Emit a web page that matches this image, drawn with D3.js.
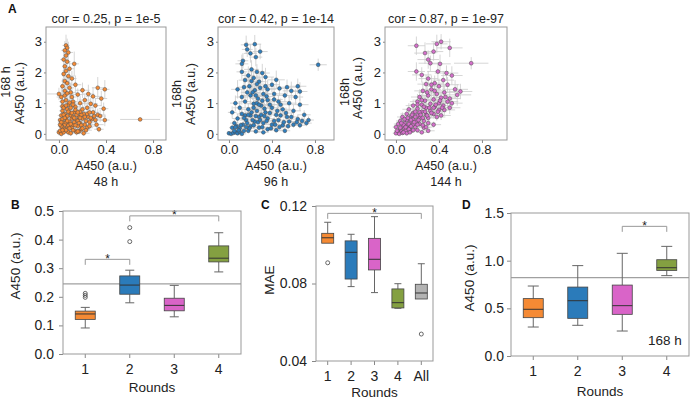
<!DOCTYPE html>
<html>
<head>
<meta charset="utf-8">
<script src="https://cdn.jsdelivr.net/npm/d3@7"></script>
<style>
body { margin: 0; background: #fff; }
svg { font-family: "Liberation Sans", Arial, sans-serif; }
.axis .domain { display: none; }
.axis line { stroke: #888; }
.axis text { fill: #222; }
</style>
</head>
<body>
<script>
// ---- panel A: scatter data, [x, y, xerr, yerr] ----
var pts48 = [
 [0.06,2.88,0.03,0.35],[0.07,2.80,0.02,0.3],[0.05,2.72,0.03,0.3],[0.08,2.65,0.04,0.35],[0.06,2.55,0.02,0.25],
 [0.04,2.42,0.03,0.3],[0.07,2.35,0.03,0.3],[0.13,2.28,0.04,0.4],[0.05,2.20,0.02,0.3],[0.09,2.12,0.04,0.25],
 [0.06,2.05,0.03,0.3],[0.04,1.95,0.02,0.3],[0.08,1.88,0.05,0.3],[0.11,1.80,0.04,0.25],[0.05,1.72,0.03,0.3],
 [0.07,1.65,0.04,0.2],[0.14,1.60,0.05,0.3],[0.03,1.55,0.02,0.25],[0.09,1.50,0.04,0.3],
 [0.00,1.30,0.10,0.2],[0.02,1.20,0.04,0.3],[0.05,1.40,0.03,0.25],[0.10,1.35,0.05,0.3],[0.16,1.28,0.05,0.2],
 [0.20,1.42,0.06,0.25],[0.25,1.30,0.05,0.3],[0.29,1.22,0.06,0.3],[0.33,1.50,0.05,0.35],[0.39,1.45,0.04,0.3],
 [0.36,1.15,0.05,0.25],[0.22,1.10,0.05,0.2],[0.18,1.00,0.04,0.25],[0.12,1.05,0.04,0.3],[0.08,0.95,0.03,0.2],
 [0.03,0.90,0.03,0.25],[0.27,0.98,0.06,0.2],[0.31,0.92,0.05,0.25],[0.38,0.82,0.04,0.2],[0.14,0.88,0.05,0.2],
 [0.24,0.85,0.05,0.2],[0.06,1.10,0.03,0.25],[0.11,1.20,0.04,0.3],
 [0.00,0.05,0.02,0.1],[0.01,0.10,0.03,0.12],[0.02,0.00,0.02,0.08],[0.03,0.20,0.03,0.15],[0.04,0.35,0.02,0.2],
 [0.05,0.15,0.03,0.12],[0.06,0.50,0.03,0.2],[0.07,0.25,0.04,0.15],[0.08,0.05,0.03,0.1],[0.09,0.40,0.04,0.2],
 [0.10,0.60,0.05,0.25],[0.11,0.20,0.04,0.12],[0.12,0.30,0.05,0.15],[0.13,0.70,0.05,0.2],[0.14,0.10,0.04,0.1],
 [0.15,0.45,0.05,0.2],[0.16,0.25,0.04,0.15],[0.17,0.55,0.06,0.2],[0.18,0.35,0.05,0.15],[0.19,0.15,0.04,0.1],
 [0.20,0.50,0.06,0.2],[0.21,0.65,0.05,0.25],[0.22,0.30,0.05,0.15],[0.23,0.42,0.06,0.2],[0.24,0.20,0.05,0.12],
 [0.25,0.55,0.06,0.2],[0.26,0.38,0.05,0.15],[0.28,0.48,0.06,0.2],[0.30,0.58,0.05,0.2],[0.32,0.30,0.06,0.15],
 [0.34,0.15,0.04,0.1],[0.29,0.70,0.05,0.2],[0.39,0.45,0.04,0.2],[0.02,0.60,0.03,0.25],[0.03,0.75,0.03,0.2],
 [0.05,0.65,0.03,0.2],[0.07,0.80,0.04,0.25],[0.01,0.45,0.02,0.2],[0.04,0.05,0.03,0.08],[0.06,0.12,0.03,0.1],
 [0.08,0.28,0.04,0.15],[0.09,0.70,0.04,0.2],[0.11,0.50,0.05,0.2],[0.13,0.38,0.04,0.15],[0.15,0.05,0.05,0.1],
 [0.17,0.08,0.04,0.1],[0.19,0.62,0.05,0.2],[0.21,0.02,0.05,0.08],[0.23,0.12,0.05,0.1],[0.12,0.55,0.05,0.2],
 [0.14,0.78,0.05,0.25],[0.10,0.02,0.04,0.08],[0.05,0.30,0.03,0.15],[0.16,0.42,0.05,0.2],[0.18,0.72,0.05,0.2],
 [0.02,0.25,0.03,0.12],
 [0.01,0.30,0.02,0.12],[0.03,0.48,0.03,0.2],[0.04,0.62,0.03,0.2],[0.06,0.38,0.03,0.15],[0.07,0.58,0.04,0.2],
 [0.08,0.72,0.04,0.2],[0.09,0.18,0.04,0.1],[0.10,0.32,0.05,0.15],[0.11,0.68,0.05,0.2],[0.12,0.12,0.04,0.08],
 [0.13,0.52,0.05,0.2],[0.14,0.28,0.05,0.12],[0.15,0.62,0.05,0.2],[0.16,0.08,0.04,0.08],[0.17,0.35,0.05,0.15],
 [0.18,0.52,0.05,0.2],[0.19,0.28,0.05,0.12],[0.20,0.18,0.05,0.1],[0.22,0.55,0.05,0.2],[0.24,0.65,0.06,0.2],
 [0.26,0.25,0.05,0.12],[0.27,0.52,0.06,0.2],[0.31,0.45,0.06,0.18],[0.33,0.62,0.05,0.2],[0.04,0.85,0.03,0.25],
 [0.06,0.92,0.03,0.25],[0.09,1.02,0.04,0.3],[0.05,1.25,0.03,0.3],[0.07,1.32,0.04,0.3],[0.03,1.05,0.03,0.25],
 [0.10,0.85,0.05,0.25],[0.02,0.38,0.03,0.15],[0.05,0.52,0.03,0.2],[0.07,0.42,0.04,0.15],[0.03,0.12,0.03,0.08],
 [0.12,0.95,0.05,0.25],[0.16,0.70,0.05,0.2],[0.20,0.80,0.05,0.2],[0.26,0.70,0.06,0.2],[0.35,0.58,0.05,0.2],
 [0.69,0.47,0.17,0.03]
];
var pts96 = [
 [0.16,2.90,0.05,0.3],[0.24,2.92,0.06,0.3],[0.17,2.75,0.05,0.25],[0.20,2.62,0.06,0.3],[0.29,2.68,0.07,0.25],
 [0.25,2.50,0.06,0.3],[0.13,2.38,0.05,0.25],[0.12,2.28,0.06,0.3],[0.21,2.10,0.07,0.3],[0.26,2.02,0.08,0.25],
 [0.31,1.98,0.07,0.3],[0.12,2.02,0.05,0.25],[0.18,1.90,0.06,0.3],[0.23,1.82,0.07,0.25],[0.34,1.85,0.08,0.3],
 [0.44,1.76,0.08,0.3],[0.40,1.60,0.07,0.25],[0.64,1.55,0.08,0.25],[0.66,1.38,0.07,0.3],[0.54,1.52,0.09,0.25],
 [0.28,1.70,0.07,0.3],[0.15,1.75,0.06,0.25],[0.36,1.45,0.08,0.3],[0.47,1.48,0.09,0.25],[0.58,1.40,0.08,0.3],
 [0.19,1.55,0.07,0.25],[0.08,1.45,0.06,0.3],[0.24,1.42,0.08,0.25],[0.32,1.30,0.07,0.3],[0.42,1.30,0.09,0.25],
 [0.52,1.25,0.08,0.2],[0.62,1.20,0.07,0.25],[0.12,1.20,0.06,0.25],[0.20,1.25,0.07,0.3],[0.27,1.15,0.08,0.2],
 [0.36,1.10,0.07,0.25],[0.46,1.05,0.08,0.2],[0.56,1.00,0.07,0.25],[0.66,0.95,0.08,0.2],[0.06,1.00,0.05,0.25],
 [0.15,1.05,0.06,0.2],[0.23,0.98,0.07,0.25],[0.30,0.92,0.08,0.2],[0.40,0.85,0.07,0.2],[0.50,0.80,0.08,0.2],
 [0.60,0.75,0.07,0.2],[0.70,0.62,0.06,0.15],[0.10,0.85,0.06,0.2],[0.18,0.80,0.07,0.2],[0.26,0.75,0.06,0.2],
 [0.34,0.70,0.07,0.2],[0.44,0.62,0.08,0.15],[0.54,0.55,0.07,0.15],[0.64,0.48,0.06,0.15],[0.74,0.45,0.05,0.12],
 [0.03,0.70,0.04,0.2],[0.12,0.65,0.05,0.2],[0.20,0.60,0.06,0.15],[0.28,0.55,0.07,0.15],[0.36,0.50,0.06,0.15],
 [0.46,0.45,0.07,0.12],[0.56,0.40,0.06,0.12],[0.68,0.42,0.06,0.12],[0.08,0.50,0.05,0.15],[0.16,0.45,0.06,0.15],
 [0.24,0.40,0.05,0.12],[0.32,0.35,0.06,0.12],[0.40,0.30,0.07,0.1],[0.50,0.28,0.06,0.1],[0.60,0.30,0.07,0.1],
 [0.05,0.35,0.04,0.12],[0.13,0.30,0.05,0.1],[0.20,0.25,0.05,0.1],[0.28,0.20,0.06,0.1],[0.36,0.15,0.05,0.08],
 [0.44,0.12,0.06,0.08],[0.52,0.10,0.05,0.08],[0.10,0.18,0.04,0.08],[0.18,0.10,0.05,0.08],[0.25,0.08,0.05,0.06],
 [0.32,0.05,0.05,0.06],[0.00,0.02,0.02,0.04],[0.02,0.00,0.02,0.03],[0.04,0.03,0.03,0.04],[0.06,0.05,0.03,0.05],
 [0.08,0.02,0.03,0.04],[0.10,0.06,0.04,0.05],[0.12,0.00,0.04,0.04],[0.14,0.10,0.04,0.06],[0.03,0.20,0.03,0.08],
 [0.07,0.25,0.04,0.1],[0.22,0.45,0.06,0.15],[0.30,0.62,0.07,0.2],[0.15,0.60,0.06,0.2],[0.38,0.95,0.08,0.25],
 [0.48,0.60,0.07,0.15],[0.26,1.00,0.07,0.25],[0.33,0.82,0.06,0.2],[0.21,0.70,0.06,0.2],[0.09,0.12,0.04,0.06],
 [0.58,0.55,0.07,0.15],[0.42,0.42,0.06,0.12],
 [0.05,0.10,0.04,0.06],[0.11,0.28,0.05,0.1],[0.17,0.35,0.06,0.12],[0.19,0.18,0.05,0.08],[0.23,0.28,0.06,0.1],
 [0.27,0.38,0.06,0.12],[0.31,0.22,0.06,0.1],[0.35,0.42,0.07,0.12],[0.39,0.18,0.06,0.08],[0.43,0.30,0.07,0.1],
 [0.47,0.22,0.06,0.08],[0.51,0.38,0.07,0.12],[0.55,0.25,0.06,0.1],[0.63,0.38,0.06,0.1],[0.66,0.28,0.05,0.1],
 [0.72,0.35,0.05,0.1],[0.14,0.52,0.06,0.15],[0.18,0.62,0.06,0.15],[0.25,0.58,0.07,0.15],[0.29,0.45,0.07,0.12],
 [0.33,0.58,0.07,0.15],[0.38,0.68,0.07,0.18],[0.23,0.85,0.07,0.2],[0.28,0.95,0.07,0.2],[0.31,1.08,0.08,0.25],
 [0.35,1.22,0.08,0.25],[0.25,1.25,0.07,0.25],[0.22,1.35,0.07,0.25],[0.29,1.50,0.07,0.3],[0.17,1.35,0.06,0.25],
 [0.14,1.52,0.06,0.3],[0.26,1.62,0.07,0.3],[0.21,1.72,0.07,0.3],[0.34,1.55,0.08,0.3],[0.42,1.12,0.08,0.25],
 [0.48,0.95,0.08,0.2],[0.53,0.68,0.07,0.18],[0.45,0.75,0.07,0.18],[0.06,0.22,0.04,0.08],[0.16,0.22,0.05,0.08],
 [0.83,2.25,0.08,0.2]
];
var pts144 = [
 [0.19,2.87,0.08,0.3],[0.38,2.93,0.1,0.3],[0.42,3.00,0.09,0.25],[0.50,2.80,0.12,0.3],[0.27,2.63,0.1,0.35],
 [0.35,2.68,0.09,0.3],[0.70,2.30,0.16,0.2],[0.30,2.42,0.1,0.3],[0.32,2.30,0.11,0.25],[0.41,2.28,0.1,0.3],
 [0.19,2.03,0.08,0.3],[0.24,1.92,0.09,0.25],[0.39,2.03,0.1,0.3],[0.47,1.98,0.11,0.25],[0.52,1.90,0.1,0.3],
 [0.30,1.80,0.09,0.25],[0.44,1.75,0.1,0.3],[0.36,1.65,0.09,0.25],[0.28,1.62,0.08,0.3],[0.48,1.60,0.11,0.25],
 [0.55,1.45,0.12,0.3],[0.60,1.38,0.11,0.25],[0.57,1.27,0.13,0.35],[0.50,1.15,0.1,0.3],[0.40,1.55,0.1,0.25],
 [0.33,1.45,0.09,0.25],[0.25,1.40,0.08,0.3],[0.45,1.35,0.1,0.25],[0.38,1.30,0.09,0.25],[0.30,1.25,0.08,0.2],
 [0.22,1.20,0.08,0.25],[0.42,1.18,0.1,0.2],[0.35,1.12,0.09,0.25],[0.27,1.08,0.08,0.2],[0.20,1.05,0.07,0.25],
 [0.48,1.05,0.1,0.2],[0.40,1.00,0.09,0.2],[0.32,0.98,0.08,0.2],[0.24,0.95,0.07,0.2],[0.16,0.92,0.07,0.2],
 [0.44,0.92,0.09,0.2],[0.36,0.88,0.08,0.2],[0.28,0.85,0.07,0.2],[0.20,0.82,0.07,0.15],[0.12,0.80,0.06,0.2],
 [0.50,0.85,0.1,0.2],[0.40,0.78,0.09,0.15],[0.32,0.75,0.08,0.15],[0.24,0.72,0.07,0.15],[0.16,0.68,0.06,0.15],
 [0.10,0.65,0.06,0.15],[0.35,0.65,0.08,0.15],[0.28,0.62,0.07,0.15],[0.20,0.60,0.06,0.15],[0.14,0.58,0.06,0.12],
 [0.06,0.55,0.05,0.15],[0.38,0.55,0.08,0.12],[0.30,0.52,0.07,0.12],[0.22,0.50,0.06,0.12],[0.16,0.48,0.05,0.12],
 [0.10,0.45,0.05,0.12],[0.04,0.42,0.04,0.12],[0.26,0.42,0.06,0.12],[0.19,0.40,0.05,0.1],[0.13,0.38,0.05,0.1],
 [0.08,0.35,0.04,0.1],[0.02,0.32,0.04,0.1],[0.30,0.35,0.07,0.1],[0.22,0.32,0.06,0.1],[0.16,0.30,0.05,0.1],
 [0.11,0.28,0.05,0.08],[0.06,0.25,0.04,0.08],[0.00,0.22,0.03,0.08],[0.18,0.22,0.05,0.08],[0.13,0.20,0.04,0.08],
 [0.08,0.18,0.04,0.06],[0.04,0.15,0.03,0.06],[0.20,0.12,0.05,0.06],[0.14,0.10,0.04,0.06],[0.09,0.10,0.04,0.05],
 [0.05,0.08,0.03,0.05],[0.02,0.05,0.03,0.04],[0.00,0.02,0.03,0.04],[0.03,0.00,0.03,0.04],[0.06,0.03,0.03,0.04],
 [0.10,0.02,0.04,0.04],[0.24,0.05,0.05,0.05],[0.30,0.10,0.06,0.06],[0.26,0.20,0.06,0.08],[0.35,0.30,0.07,0.1],
 [0.42,0.60,0.09,0.15],[0.45,0.78,0.1,0.2],[0.25,0.28,0.06,0.1],[0.12,0.15,0.04,0.06],[0.15,0.62,0.06,0.15],
 [0.08,0.48,0.05,0.12],[0.35,0.85,0.08,0.2],[0.22,0.70,0.07,0.15],
 [0.01,0.10,0.03,0.05],[0.04,0.20,0.03,0.06],[0.07,0.30,0.04,0.08],[0.09,0.22,0.04,0.06],[0.12,0.32,0.05,0.08],
 [0.14,0.45,0.05,0.1],[0.17,0.38,0.05,0.1],[0.18,0.55,0.06,0.12],[0.21,0.45,0.06,0.1],[0.23,0.62,0.06,0.12],
 [0.25,0.52,0.06,0.12],[0.27,0.72,0.07,0.15],[0.29,0.60,0.07,0.12],[0.31,0.85,0.07,0.15],[0.33,0.68,0.07,0.15],
 [0.37,0.95,0.08,0.2],[0.39,0.72,0.08,0.15],[0.41,1.08,0.09,0.2],[0.43,0.85,0.09,0.2],[0.46,1.20,0.1,0.25],
 [0.52,1.00,0.1,0.2],[0.26,0.88,0.07,0.18],[0.18,0.72,0.06,0.15],[0.14,0.25,0.05,0.08],[0.11,0.52,0.05,0.12],
 [0.05,0.35,0.04,0.1],[0.20,0.95,0.07,0.2],[0.29,1.35,0.08,0.25],[0.36,1.40,0.09,0.25],[0.24,1.10,0.07,0.2],
 [0.33,1.60,0.09,0.3],[0.20,0.30,0.05,0.08],[0.28,0.22,0.06,0.08],[0.16,0.12,0.04,0.06],[0.07,0.05,0.03,0.04],
 [0.13,0.05,0.04,0.05]
];
var titlesA = ["cor = 0.25, p = 1e-5", "cor = 0.42, p = 1e-14", "cor = 0.87, p = 1e-97"];
var hoursA = ["48 h", "96 h", "144 h"];
var yHourA = ["168 h", "168h", "168h"];
var ticksAx = [0, 0.4, 0.8];
var ticksAy = [0, 1, 2, 3];

// ---- panels B, C, D: box stats [low whisker, q1, median, q3, high whisker] ----
var roundsB = ["1", "2", "3", "4"];
var statsB = [[0.091,0.121,0.140,0.150,0.163],[0.179,0.209,0.241,0.273,0.293],[0.130,0.151,0.170,0.195,0.240],[0.287,0.322,0.335,0.378,0.424]];
var outliersB = [[0.198,0.205,0.212],[0.393,0.442],[],[]];
var refB = 0.245;
var sigB = [[0, 1, 0.331], [1, 3, 0.483]];
var ticksB = [0, 0.1, 0.2, 0.3, 0.4, 0.5];

var roundsC = ["1", "2", "3", "4", "All"];
var statsC = [[0.1008,0.1008,0.1036,0.1059,0.1116],[0.0784,0.0823,0.0961,0.1020,0.1054],[0.0753,0.0870,0.0925,0.1033,0.1145],[0.0672,0.0674,0.0701,0.0772,0.0799],[0.0720,0.0720,0.0751,0.0796,0.0902]];
var outliersC = [[0.0907],[],[],[],[0.0539]];
var sigC = [[0, 4, 0.1162]];
var ticksC = [0.04, 0.08, 0.12];

var roundsD = ["1", "2", "3", "4"];
var statsD = [[0.304,0.402,0.490,0.602,0.734],[0.322,0.395,0.580,0.723,0.948],[0.262,0.437,0.528,0.744,1.077],[0.843,0.898,0.926,1.010,1.150]];
var outliersD = [[],[],[],[]];
var refD = 0.822;
var sigD = [[2, 3, 1.36]];
var ticksD = [0, 0.5, 1.0, 1.5];

var boxColors = ["#f58a34", "#2b7bba", "#d964c8", "#84a041", "#b3b3b3"];
var FONT = "'Liberation Sans', Arial, sans-serif";

var svg = d3.select("body").append("svg").attr("width", 690).attr("height", 401);

function panelLetter(t, x, y) {
  svg.append("text").attr("x", x).attr("y", y).attr("font-size", 12).attr("font-weight", "bold").attr("fill", "#111").text(t);
}
function vLabel(t, x, y, size) {
  svg.append("text").attr("transform", "translate(" + x + "," + y + ") rotate(-90)")
    .attr("text-anchor", "middle").attr("dominant-baseline", "middle")
    .attr("font-size", size || 12.5).attr("fill", "#222").text(t);
}
function hLabel(t, x, y, size) {
  svg.append("text").attr("x", x).attr("y", y).attr("text-anchor", "middle")
    .attr("font-size", size || 12.5).attr("fill", "#222").text(t);
}

function scatterPanel(o) {
  var x = d3.scaleLinear().domain(o.xd).range([o.l, o.r]);
  var y = d3.scaleLinear().domain([-0.2, 3.48]).range([o.b, o.t]);
  var g = svg.append("g");
  g.append("g").attr("class", "axis")
    .attr("transform", "translate(0," + o.b + ")")
    .call(d3.axisBottom(x).tickValues(ticksAx).tickFormat(d3.format(".1f")).tickSize(3).tickPadding(1.5))
    .attr("font-size", 13).attr("font-family", FONT);
  g.append("g").attr("class", "axis")
    .attr("transform", "translate(" + o.l + ",0)")
    .call(d3.axisLeft(y).tickValues(ticksAy).tickFormat(d3.format("d")).tickSize(2).tickPadding(2))
    .attr("font-size", 13).attr("font-family", FONT);
  var eb = g.append("g").attr("stroke", "#cccccc").attr("stroke-width", 0.8);
  eb.selectAll(".h").data(o.data).enter().append("line")
    .attr("x1", function(d) { return x(d[0] - d[2]); }).attr("x2", function(d) { return x(d[0] + d[2]); })
    .attr("y1", function(d) { return y(d[1]); }).attr("y2", function(d) { return y(d[1]); });
  eb.selectAll(".v").data(o.data).enter().append("line")
    .attr("x1", function(d) { return x(d[0]); }).attr("x2", function(d) { return x(d[0]); })
    .attr("y1", function(d) { return y(Math.max(-0.15, d[1] - d[3])); }).attr("y2", function(d) { return y(d[1] + d[3]); });
  g.selectAll("circle").data(o.data).enter().append("circle")
    .attr("cx", function(d) { return x(d[0]); }).attr("cy", function(d) { return y(d[1]); })
    .attr("r", 1.9).attr("fill", o.color).attr("stroke", "#4a4a4a").attr("stroke-width", 0.5);
  g.append("rect").attr("x", o.l).attr("y", o.t).attr("width", o.r - o.l).attr("height", o.b - o.t)
    .attr("fill", "none").attr("stroke", "#999");
  var cx = (o.l + o.r) / 2;
  hLabel(o.title, cx, 23);
  hLabel("A450 (a.u.)", cx, 170);
  hLabel(o.hour, cx, 186);
  vLabel(o.yh, o.yhx, o.yhy);
  vLabel("A450 (a.u.)", o.yax, o.yay);
}

scatterPanel({data: pts48, color: "#f58a34", l: 46, r: 166, t: 27, b: 140, xd: [-0.11, 0.91],
  title: titlesA[0], hour: hoursA[0], yh: yHourA[0], yhx: 7, yhy: 82, yax: 21, yay: 93});
scatterPanel({data: pts96, color: "#2e7ebe", l: 218, r: 334, t: 27, b: 140, xd: [-0.102, 0.977],
  title: titlesA[1], hour: hoursA[1], yh: yHourA[1], yhx: 178, yhy: 94, yax: 192, yay: 94});
scatterPanel({data: pts144, color: "#d56fcb", l: 385, r: 507, t: 27, b: 140, xd: [-0.102, 1.033],
  title: titlesA[2], hour: hoursA[2], yh: yHourA[2], yhx: 346, yhy: 92, yax: 359, yay: 88});
panelLetter("A", 8, 13);

function boxPanel(o) {
  var x = d3.scaleBand().domain(o.cats).range([o.l, o.r]);
  var y = d3.scaleLinear().domain(o.yd).range([o.b, o.t]);
  var g = svg.append("g");
  g.append("g").attr("class", "axis")
    .attr("transform", "translate(0," + o.b + ")")
    .call(d3.axisBottom(x).tickSize(4).tickPadding(6))
    .attr("font-size", 14).attr("font-family", FONT);
  g.append("g").attr("class", "axis")
    .attr("transform", "translate(" + o.l + ",0)")
    .call(d3.axisLeft(y).tickValues(o.ticks).tickFormat(d3.format(o.fmt)).tickSize(4).tickPadding(o.pad))
    .attr("font-size", 14).attr("font-family", FONT);
  if (o.ref != null) {
    g.append("line").attr("x1", o.l).attr("x2", o.r).attr("y1", y(o.ref)).attr("y2", y(o.ref))
      .attr("stroke", "#a0a0a0").attr("stroke-width", 1.2);
  }
  var cxs = o.cats.map(function(c) { return x(c) + x.bandwidth() / 2; });
  var bw = o.bw, cap = o.cap;
  o.stats.forEach(function(s, i) {
    var cx = cxs[i];
    var w = g.append("g").attr("stroke", "#666").attr("stroke-width", 1);
    w.append("line").attr("x1", cx).attr("x2", cx).attr("y1", y(s[0])).attr("y2", y(s[1]));
    w.append("line").attr("x1", cx).attr("x2", cx).attr("y1", y(s[3])).attr("y2", y(s[4]));
    if (s[0] < s[1]) w.append("line").attr("x1", cx - cap / 2).attr("x2", cx + cap / 2).attr("y1", y(s[0])).attr("y2", y(s[0]));
    w.append("line").attr("x1", cx - cap / 2).attr("x2", cx + cap / 2).attr("y1", y(s[4])).attr("y2", y(s[4]));
    g.append("rect").attr("x", cx - bw / 2).attr("y", y(s[3])).attr("width", bw).attr("height", y(s[1]) - y(s[3]))
      .attr("fill", o.colors[i]).attr("stroke", "#444").attr("stroke-width", 0.8);
    g.append("line").attr("x1", cx - bw / 2).attr("x2", cx + bw / 2).attr("y1", y(s[2])).attr("y2", y(s[2]))
      .attr("stroke", "#333").attr("stroke-width", 1);
    g.selectAll(null).data(o.out[i]).enter().append("circle")
      .attr("cx", cx).attr("cy", function(d) { return y(d); }).attr("r", 2)
      .attr("fill", "none").attr("stroke", "#444").attr("stroke-width", 0.8);
  });
  o.sig.forEach(function(s) {
    var x1 = cxs[s[0]], x2 = cxs[s[1]], yy = y(s[2]);
    g.append("path").attr("d", "M" + x1 + "," + (yy + 5.5) + "V" + yy + "H" + x2 + "V" + (yy + 5.5))
      .attr("fill", "none").attr("stroke", "#999").attr("stroke-width", 1);
    g.append("text").attr("x", (x1 + x2) / 2).attr("y", yy + 3.5).attr("text-anchor", "middle")
      .attr("font-size", 12).attr("fill", "#222").text("*");
  });
  g.append("rect").attr("x", o.l).attr("y", o.t).attr("width", o.r - o.l).attr("height", o.b - o.t)
    .attr("fill", "none").attr("stroke", "#999");
  hLabel("Rounds", (o.l + o.r) / 2, o.rb, 13.5);
  vLabel(o.ylab, o.ylx, o.yly, 13.5);
}

boxPanel({cats: roundsB, stats: statsB, out: outliersB, ref: refB, sig: sigB, ticks: ticksB, fmt: ".1f",
  colors: boxColors, l: 63, r: 241, t: 211, b: 354, yd: [0, 0.5], bw: 20, cap: 9, pad: 5,
  rb: 392, ylab: "A450 (a.u.)", ylx: 16, yly: 266});
panelLetter("B", 11, 209);

boxPanel({cats: roundsC, stats: statsC, out: outliersC, ref: null, sig: sigC, ticks: ticksC, fmt: ".2f",
  colors: boxColors, l: 316, r: 433, t: 206, b: 361, yd: [0.04, 0.12], bw: 12, cap: 7, pad: 5,
  rb: 397, ylab: "MAE", ylx: 270, yly: 280});
panelLetter("C", 261, 209);

boxPanel({cats: roundsD, stats: statsD, out: outliersD, ref: refD, sig: sigD, ticks: ticksD, fmt: ".1f",
  colors: boxColors, l: 511, r: 689, t: 213, b: 356, yd: [0, 1.5], bw: 20, cap: 11, pad: 3,
  rb: 396, ylab: "A450 (a.u.)", ylx: 470, yly: 278});
panelLetter("D", 462, 209);
hLabel("168 h", 665, 345, 13.5);
</script>
</body>
</html>
